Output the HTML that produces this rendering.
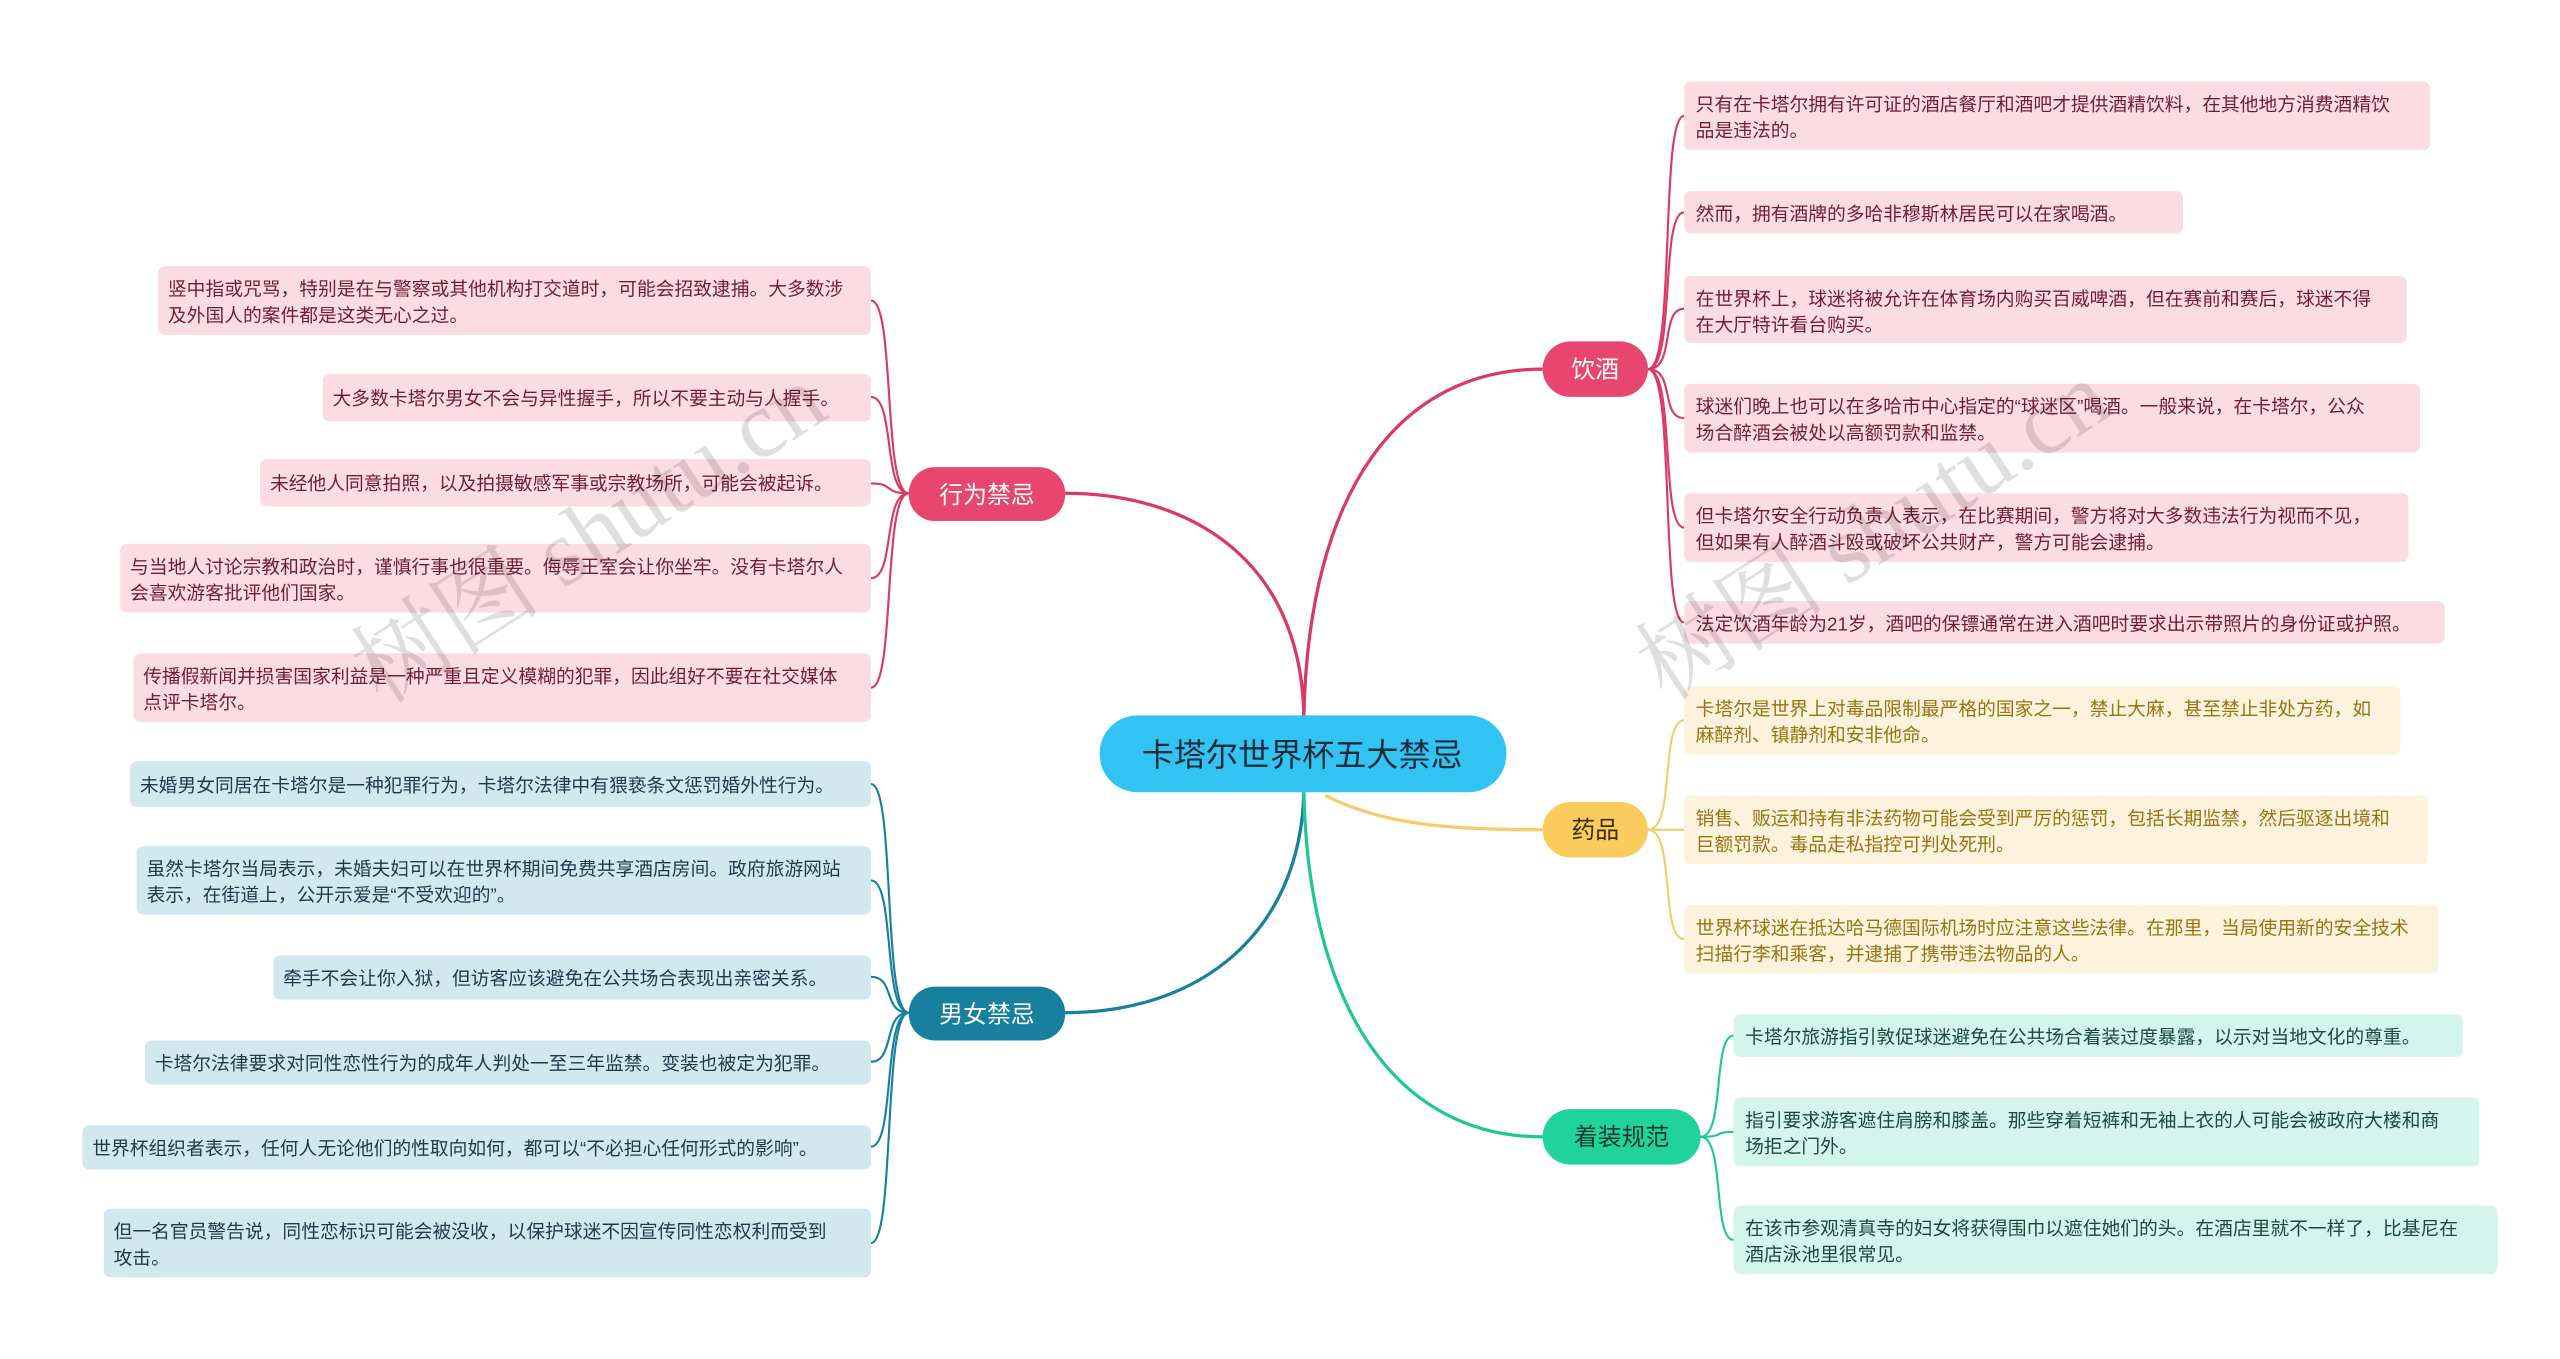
<!DOCTYPE html>
<html><head><meta charset="utf-8"><style>
html,body{margin:0;padding:0;background:#fff;width:2560px;height:1359px;overflow:hidden}
svg{display:block}
text{font-family:"Liberation Sans","Noto Sans CJK SC",sans-serif}
.p{fill:#fcdce3}.pt{fill:#6e1f33;font-size:11.4px}
.b{fill:#d2e8ef}.bt{fill:#1d3b4b;font-size:11.4px}
.y{fill:#fdf3dc}.yt{fill:#977414;font-size:11.4px}
.g{fill:#d3f5eb}.gt{fill:#1b4a3c;font-size:11.4px}
.wm{font-family:"Liberation Serif","Noto Serif CJK SC",serif;font-size:58px;fill:#000;opacity:.12}
</style></head><body>
<svg width="2560" height="1359" viewBox="0 0 1555 832" preserveAspectRatio="none">
<g fill="none" stroke-width="2">
<path d="M792,438 C790,340 720,302 647,302" stroke="#d83a63"/>
<path d="M792,438 C795,300 850,226 937,226" stroke="#d83a63"/>
<path d="M805,487 C840,505 880,508 937,508" stroke="#f5cc6a"/>
<path d="M792,485 C790,570 730,620 647,620" stroke="#17809e"/>
<path d="M792,485 C795,620 850,696 937,696" stroke="#1ec896"/>
</g>
<g fill="none" stroke-width="1.3">
<g stroke="#d83a63">
<path d="M552,302 C536,302 544,184 529,184"/>
<path d="M552,302 C536,302 544,243 529,243"/>
<path d="M552,302 C536,302 544,296 529,296"/>
<path d="M552,302 C536,302 544,354 529,354"/>
<path d="M552,302 C536,302 544,421 529,421"/>
<path d="M1001,226 C1018,226 1008,71 1023,71"/>
<path d="M1001,226 C1018,226 1008,130 1023,130"/>
<path d="M1001,226 C1018,226 1008,189 1023,189"/>
<path d="M1001,226 C1018,226 1008,256 1023,256"/>
<path d="M1001,226 C1018,226 1008,323 1023,323"/>
<path d="M1001,226 C1018,226 1008,381 1023,381"/>
</g>
<g stroke="#f5cc6a">
<path d="M1001,508 C1018,508 1008,441 1023,441"/>
<path d="M1001,508 C1018,508 1008,508 1023,508"/>
<path d="M1001,508 C1018,508 1008,575 1023,575"/>
</g>
<g stroke="#17809e">
<path d="M552,620 C536,620 544,480 529,480"/>
<path d="M552,620 C536,620 544,539 529,539"/>
<path d="M552,620 C536,620 544,598 529,598"/>
<path d="M552,620 C536,620 544,650 529,650"/>
<path d="M552,620 C536,620 544,702 529,702"/>
<path d="M552,620 C536,620 544,761 529,761"/>
</g>
<g stroke="#1ec896">
<path d="M1033,696 C1048,696 1040,634 1053,634"/>
<path d="M1033,696 C1048,696 1040,693 1053,693"/>
<path d="M1033,696 C1048,696 1040,759 1053,759"/>
</g>
</g>
<rect x="668" y="438" width="247" height="47" rx="23" fill="#31c3f2"/>
<text x="791" y="469" text-anchor="middle" font-size="19.5" fill="#1b2b3a">卡塔尔世界杯五大禁忌</text>
<rect x="552" y="286" width="95" height="33" rx="16" fill="#e8466f"/>
<text x="599.5" y="308" text-anchor="middle" font-size="14.5" fill="#fff">行为禁忌</text>
<rect x="937" y="209" width="64" height="34" rx="17" fill="#e8466f"/>
<text x="969" y="231" text-anchor="middle" font-size="14.5" fill="#fff">饮酒</text>
<rect x="937" y="491" width="64" height="34" rx="17" fill="#fbcb5e"/>
<text x="969" y="513" text-anchor="middle" font-size="14.5" fill="#3a2c05">药品</text>
<rect x="552" y="604" width="95" height="33" rx="16" fill="#17809e"/>
<text x="599.5" y="626" text-anchor="middle" font-size="14.5" fill="#fff">男女禁忌</text>
<rect x="937" y="679" width="96" height="34" rx="17" fill="#20d39b"/>
<text x="985" y="701" text-anchor="middle" font-size="14.5" fill="#10382b">着装规范</text>
<rect class="p" x="96" y="163" width="433" height="42" rx="4"/>
<text class="pt" x="102" y="181">竖中指或咒骂，特别是在与警察或其他机构打交道时，可能会招致逮捕。大多数涉</text>
<text class="pt" x="102" y="197">及外国人的案件都是这类无心之过。</text>
<rect class="p" x="196" y="229" width="333" height="29" rx="4"/>
<text class="pt" x="202" y="248">大多数卡塔尔男女不会与异性握手，所以不要主动与人握手。</text>
<rect class="p" x="158" y="281" width="371" height="29" rx="4"/>
<text class="pt" x="164" y="300">未经他人同意拍照，以及拍摄敏感军事或宗教场所，可能会被起诉。</text>
<rect class="p" x="73" y="333" width="456" height="42" rx="4"/>
<text class="pt" x="79" y="351">与当地人讨论宗教和政治时，谨慎行事也很重要。侮辱王室会让你坐牢。没有卡塔尔人</text>
<text class="pt" x="79" y="367">会喜欢游客批评他们国家。</text>
<rect class="p" x="81" y="400" width="448" height="42" rx="4"/>
<text class="pt" x="87" y="418">传播假新闻并损害国家利益是一种严重且定义模糊的犯罪，因此组好不要在社交媒体</text>
<text class="pt" x="87" y="434">点评卡塔尔。</text>
<rect class="b" x="79" y="466" width="450" height="28" rx="4"/>
<text class="bt" x="85" y="485">未婚男女同居在卡塔尔是一种犯罪行为，卡塔尔法律中有猥亵条文惩罚婚外性行为。</text>
<rect class="b" x="83" y="518" width="446" height="42" rx="4"/>
<text class="bt" x="89" y="536">虽然卡塔尔当局表示，未婚夫妇可以在世界杯期间免费共享酒店房间。政府旅游网站</text>
<text class="bt" x="89" y="552">表示，在街道上，公开示爱是“不受欢迎的”。</text>
<rect class="b" x="166" y="585" width="363" height="27" rx="4"/>
<text class="bt" x="172" y="603">牵手不会让你入狱，但访客应该避免在公共场合表现出亲密关系。</text>
<rect class="b" x="88" y="637" width="441" height="27" rx="4"/>
<text class="bt" x="94" y="655">卡塔尔法律要求对同性恋性行为的成年人判处一至三年监禁。变装也被定为犯罪。</text>
<rect class="b" x="50" y="689" width="479" height="27" rx="4"/>
<text class="bt" x="56" y="707">世界杯组织者表示，任何人无论他们的性取向如何，都可以“不必担心任何形式的影响”。</text>
<rect class="b" x="63" y="740" width="466" height="42" rx="4"/>
<text class="bt" x="69" y="758">但一名官员警告说，同性恋标识可能会被没收，以保护球迷不因宣传同性恋权利而受到</text>
<text class="bt" x="69" y="774">攻击。</text>
<rect class="p" x="1023" y="50" width="453" height="42" rx="4"/>
<text class="pt" x="1030" y="68">只有在卡塔尔拥有许可证的酒店餐厅和酒吧才提供酒精饮料，在其他地方消费酒精饮</text>
<text class="pt" x="1030" y="84">品是违法的。</text>
<rect class="p" x="1023" y="117" width="303" height="26" rx="4"/>
<text class="pt" x="1030" y="135">然而，拥有酒牌的多哈非穆斯林居民可以在家喝酒。</text>
<rect class="p" x="1023" y="169" width="439" height="41" rx="4"/>
<text class="pt" x="1030" y="187">在世界杯上，球迷将被允许在体育场内购买百威啤酒，但在赛前和赛后，球迷不得</text>
<text class="pt" x="1030" y="203">在大厅特许看台购买。</text>
<rect class="p" x="1023" y="235" width="447" height="42" rx="4"/>
<text class="pt" x="1030" y="253">球迷们晚上也可以在多哈市中心指定的“球迷区”喝酒。一般来说，在卡塔尔，公众</text>
<text class="pt" x="1030" y="269">场合醉酒会被处以高额罚款和监禁。</text>
<rect class="p" x="1023" y="302" width="440" height="42" rx="4"/>
<text class="pt" x="1030" y="320">但卡塔尔安全行动负责人表示，在比赛期间，警方将对大多数违法行为视而不见，</text>
<text class="pt" x="1030" y="336">但如果有人醉酒斗殴或破坏公共财产，警方可能会逮捕。</text>
<rect class="p" x="1023" y="368" width="462" height="26" rx="4"/>
<text class="pt" x="1030" y="386">法定饮酒年龄为21岁，酒吧的保镖通常在进入酒吧时要求出示带照片的身份证或护照。</text>
<rect class="y" x="1023" y="420" width="435" height="42" rx="4"/>
<text class="yt" x="1030" y="438">卡塔尔是世界上对毒品限制最严格的国家之一，禁止大麻，甚至禁止非处方药，如</text>
<text class="yt" x="1030" y="454">麻醉剂、镇静剂和安非他命。</text>
<rect class="y" x="1023" y="487" width="452" height="42" rx="4"/>
<text class="yt" x="1030" y="505">销售、贩运和持有非法药物可能会受到严厉的惩罚，包括长期监禁，然后驱逐出境和</text>
<text class="yt" x="1030" y="521">巨额罚款。毒品走私指控可判处死刑。</text>
<rect class="y" x="1023" y="554" width="458" height="42" rx="4"/>
<text class="yt" x="1030" y="572">世界杯球迷在抵达哈马德国际机场时应注意这些法律。在那里，当局使用新的安全技术</text>
<text class="yt" x="1030" y="588">扫描行李和乘客，并逮捕了携带违法物品的人。</text>
<rect class="g" x="1053" y="621" width="443" height="26" rx="4"/>
<text class="gt" x="1060" y="639">卡塔尔旅游指引敦促球迷避免在公共场合着装过度暴露，以示对当地文化的尊重。</text>
<rect class="g" x="1053" y="672" width="453" height="42" rx="4"/>
<text class="gt" x="1060" y="690">指引要求游客遮住肩膀和膝盖。那些穿着短裤和无袖上衣的人可能会被政府大楼和商</text>
<text class="gt" x="1060" y="706">场拒之门外。</text>
<rect class="g" x="1053" y="738" width="464" height="42" rx="4"/>
<text class="gt" x="1060" y="756">在该市参观清真寺的妇女将获得围巾以遮住她们的头。在酒店里就不一样了，比基尼在</text>
<text class="gt" x="1060" y="772">酒店泳池里很常见。</text>
<text class="wm" transform="translate(232,432) rotate(-33)">树图 shutu.cn</text>
<text class="wm" transform="translate(1012,430) rotate(-33)">树图 shutu.cn</text>
</svg>
</body></html>
